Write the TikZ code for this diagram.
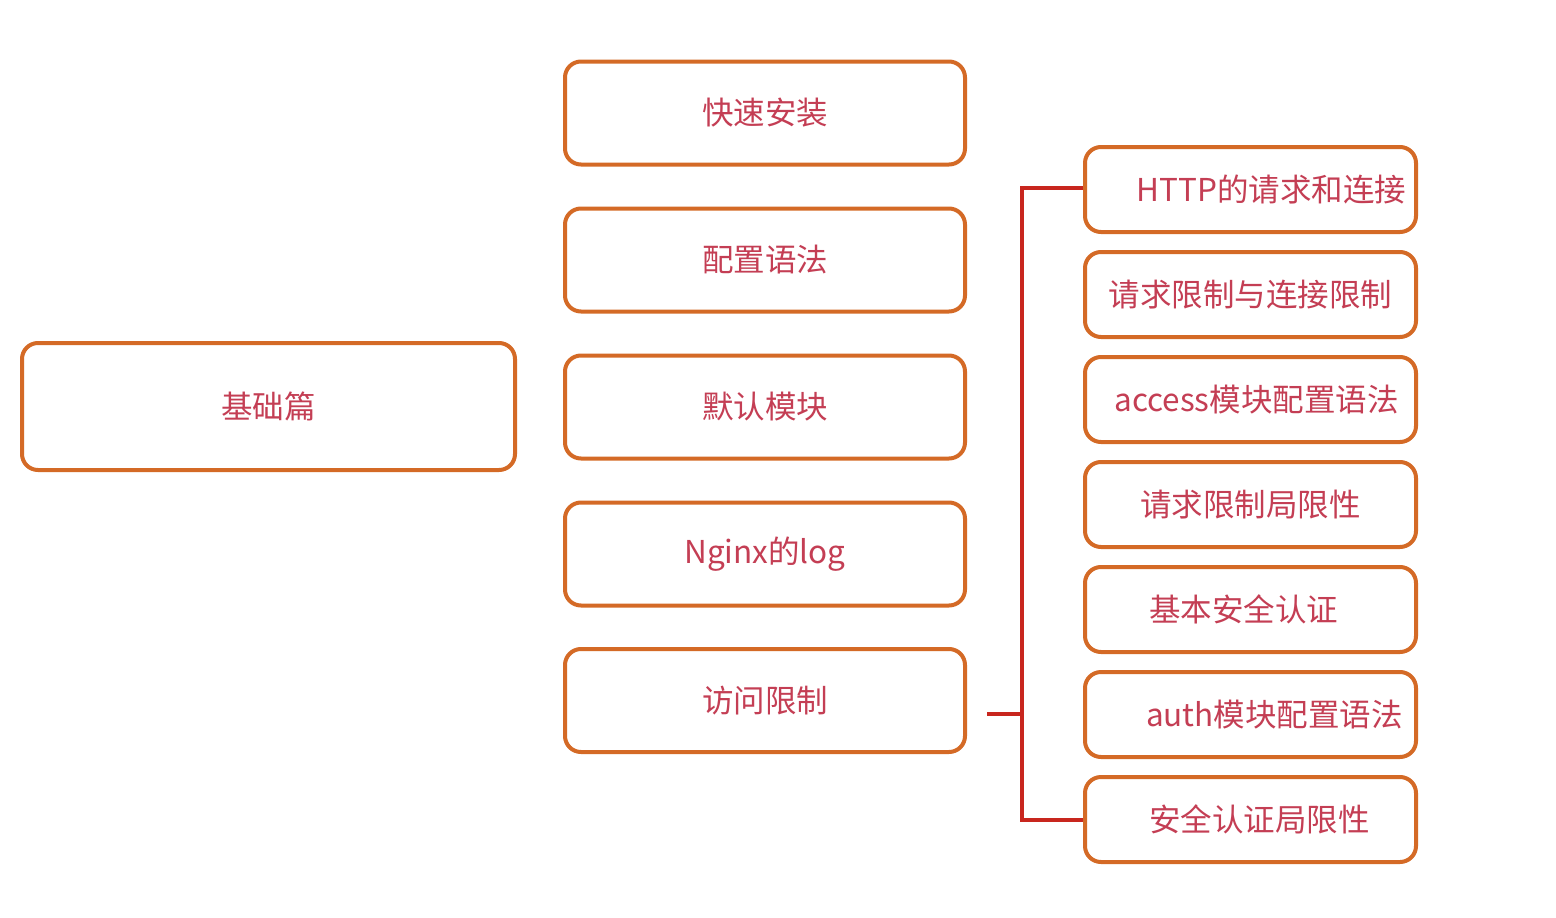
\documentclass[tikz,border=0pt]{standalone}
\usepackage{fontspec}
\setmainfont{Noto Sans CJK SC}
\definecolor{boxline}{RGB}{212,106,38}
\definecolor{boxtext}{RGB}{196,62,84}
\definecolor{conn}{RGB}{200,38,30}
\tikzset{
  box/.style={draw=boxline, line width=4pt, rounded corners=16pt, fill=white,
    inner sep=0pt, text=boxtext, font=\fontsize{31.5}{34}\selectfont, anchor=center},
  midbox/.style={box, minimum width=400pt, minimum height=103pt},
  rbox/.style={box, minimum width=331pt, minimum height=85pt},
  connline/.style={draw=conn, line width=3.5pt},
}
\begin{document}
\begin{tikzpicture}[x=1pt,y=-1pt]
\useasboundingbox (0,0) rectangle (1556,918);
\fill[white] (0,0) rectangle (1556,918);
\node[box, minimum width=493pt, minimum height=127pt] (base) at (268.5,406.5) {\raisebox{-2pt}{基础篇}};
\node[midbox] (m1) at (765,113) {\raisebox{-2pt}{快速安装}};
\node[midbox] (m2) at (765,260) {\raisebox{-2pt}{配置语法}};
\node[midbox] (m3) at (765,407) {\raisebox{-2pt}{默认模块}};
\node[midbox] (m4) at (765,554) {\raisebox{-2pt}{Nginx的log}};
\node[midbox] (m5) at (765,700.5) {\raisebox{-2pt}{访问限制}};
\node[rbox] (r1) at (1250.5,189.5) {\hspace*{42pt}HTTP的请求和连接};
\node[rbox] (r2) at (1250.5,294.5) {请求限制与连接限制};
\node[rbox] (r3) at (1250.5,399.5) {\hspace*{12pt}access模块配置语法};
\node[rbox] (r4) at (1250.5,504.5) {请求限制局限性};
\node[rbox] (r5) at (1250.5,609.5) {\hspace*{-14pt}基本安全认证};
\node[rbox] (r6) at (1250.5,714.5) {\hspace*{48pt}auth模块配置语法};
\node[rbox] (r7) at (1250.5,819.5) {\hspace*{18pt}安全认证局限性};
\coordinate (jx) at (1022,714);
\draw[connline] ([xshift=20pt]m5.east |- jx) -- (jx);
\draw[connline] (r1.west |- 0,188) -| (1022,820) -- (r7.west |- 0,820);
\end{tikzpicture}
\end{document}
